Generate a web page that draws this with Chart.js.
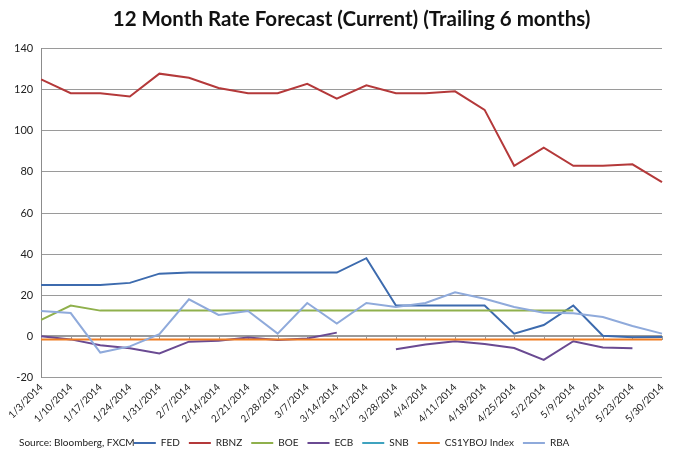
<!DOCTYPE html>
<html>
<head>
<meta charset="utf-8">
<script src="https://cdn.jsdelivr.net/npm/chart.js@4.4.1/dist/chart.umd.min.js"></script>
<style>
  html, body { margin: 0; padding: 0; background: #fff; }
  #wrap { width: 680px; height: 464px; }
</style>
</head>
<body>
<div id="wrap"><canvas id="rateChart"></canvas></div>
<script>
// weekly dates, Jan - May 2014
const weeks = ["1/3/2014","1/10/2014","1/17/2014","1/24/2014","1/31/2014","2/7/2014","2/14/2014","2/21/2014",
  "2/28/2014","3/7/2014","3/14/2014","3/21/2014","3/28/2014","4/4/2014","4/11/2014","4/18/2014",
  "4/25/2014","5/2/2014","5/9/2014","5/16/2014","5/23/2014","5/30/2014"];

const fed  = [25,25,25,26,30.5,31,31,31,31,31,31,38,15,15,15,15,1.3,5.5,15,0.3,-0.5,-0.3];
const rbnz = [125,118.3,118.3,116.7,127.8,125.8,120.8,118.3,118.3,122.9,115.6,122.1,118.3,118.3,119.2,110.2,83,91.8,83,83,83.7,75];
const boe  = [8,15,12.5,12.5,12.5,12.5,12.5,12.5,12.5,12.5,12.5,12.5,12.5,12.5,12.5,12.5,12.5,12.5,12.5,null,null,null];
const ecb  = [0,-1.5,-4.4,-5.8,-8.3,-2.6,-2.1,-0.6,-1.8,-1.1,1.8,null,-6.3,-4,-2.4,-3.7,-5.7,-11.5,-2.4,-5.4,-5.8,null];
// SNB is not visible anywhere in the picture (hidden / no data)
const snb  = [null,null,null,null,null,null,null,null,null,null,null,null,null,null,null,null,null,null,null,null,null,null];
const boj  = [-1.6,-1.6,-1.6,-1.6,-1.6,-1.6,-1.6,-1.6,-1.6,-1.6,-1.6,-1.6,-1.6,-1.6,-1.6,-1.6,-1.6,-1.6,-1.6,-1.6,-1.6,-1.6];
const rba  = [12.3,11.3,-7.9,-4.9,1,18,10.4,12.3,1.3,16.2,6.2,16.2,14.3,16.2,21.4,18.3,14.3,11.5,11.2,9.4,5,1.3];

const yTicks = [-20,0,20,40,60,80,100,120,140];

const FONT = "Lato";

const series = [
  { label: "FED", data: fed, color: "#3D6BAE" },
  { label: "RBNZ", data: rbnz, color: "#B4393A" },
  { label: "BOE", data: boe, color: "#8FB04C" },
  { label: "ECB", data: ecb, color: "#6A4A92" },
  { label: "SNB", data: snb, color: "#3FA3BF" },
  { label: "CS1YBOJ Index", data: boj, color: "#EF7D22" },
  { label: "RBA", data: rba, color: "#8FAADB" }
];

// small tick marks along the zero line + source note
const extras = {
  id: "extras",
  beforeDatasetsDraw(chart) {
    const { ctx, scales: { x, y } } = chart;
    const y0 = Math.round(y.getPixelForValue(0));
    ctx.save();
    ctx.strokeStyle = "#9a9a9a";
    ctx.lineWidth = 2;
    ctx.beginPath();
    ctx.moveTo(x.left, y0);
    ctx.lineTo(x.right, y0);
    ctx.stroke();
    ctx.lineWidth = 1;
    ctx.beginPath();
    weeks.forEach((w, i) => {
      const px = Math.round(x.getPixelForValue(i)) + 0.5;
      ctx.moveTo(px, y0);
      ctx.lineTo(px, y0 + 4);
    });
    ctx.stroke();
    ctx.restore();
  },
  afterDraw(chart) {
    const { ctx, legend } = chart;
    ctx.save();
    ctx.font = "10px " + FONT;
    ctx.fillStyle = "#222";
    ctx.textBaseline = "middle";
    const it = legend.legendHitBoxes[0];
    ctx.fillText("Source: Bloomberg, FXCM", 19, it.top + it.height / 2);
    ctx.restore();
  }
};

new Chart(document.getElementById("rateChart"), {
  type: "line",
  data: {
    labels: weeks,
    datasets: series.map((s, i) => ({
      label: s.label,
      data: s.data,
      borderColor: s.color,
      backgroundColor: s.color,
      borderWidth: 2,
      pointRadius: 0,
      tension: 0,
      spanGaps: false,
      order: series.length - i
    }))
  },
  options: {
    responsive: true,
    maintainAspectRatio: false,
    animation: false,
    layout: { padding: { left: 6, right: 18, top: 4, bottom: 6 } },
    plugins: {
      title: {
        display: true,
        fullSize: false,
        text: "12 Month Rate Forecast (Current) (Trailing 6 months)",
        font: { family: FONT, size: 20.5, weight: "bold" },
        color: "#111",
        padding: { top: 3, bottom: 17 }
      },
      legend: {
        position: "bottom",
        fullSize: false,
        labels: {
          font: { family: FONT, size: 10 },
          color: "#222",
          usePointStyle: true,
          pointStyle: "line",
          pointStyleWidth: 22,
          boxHeight: 8,
          padding: 9,
          sort: (a, b) => a.datasetIndex - b.datasetIndex
        }
      },
      tooltip: { enabled: false }
    },
    scales: {
      x: {
        offset: false,
        grid: { display: false, drawTicks: false },
        border: { display: false },
        ticks: {
          maxRotation: 45, minRotation: 45, autoSkip: false,
          font: { family: FONT, size: 10 }, color: "#222", padding: 4
        }
      },
      y: {
        min: -20, max: 140,
        afterBuildTicks: (axis) => { axis.ticks = yTicks.map(v => ({ value: v })); },
        grid: { color: "#9a9a9a", drawTicks: false },
        border: { display: true, color: "#8c8c8c" },
        ticks: { font: { family: FONT, size: 11 }, color: "#222", padding: 8 }
      }
    }
  },
  plugins: [extras]
});
</script>
</body>
</html>
